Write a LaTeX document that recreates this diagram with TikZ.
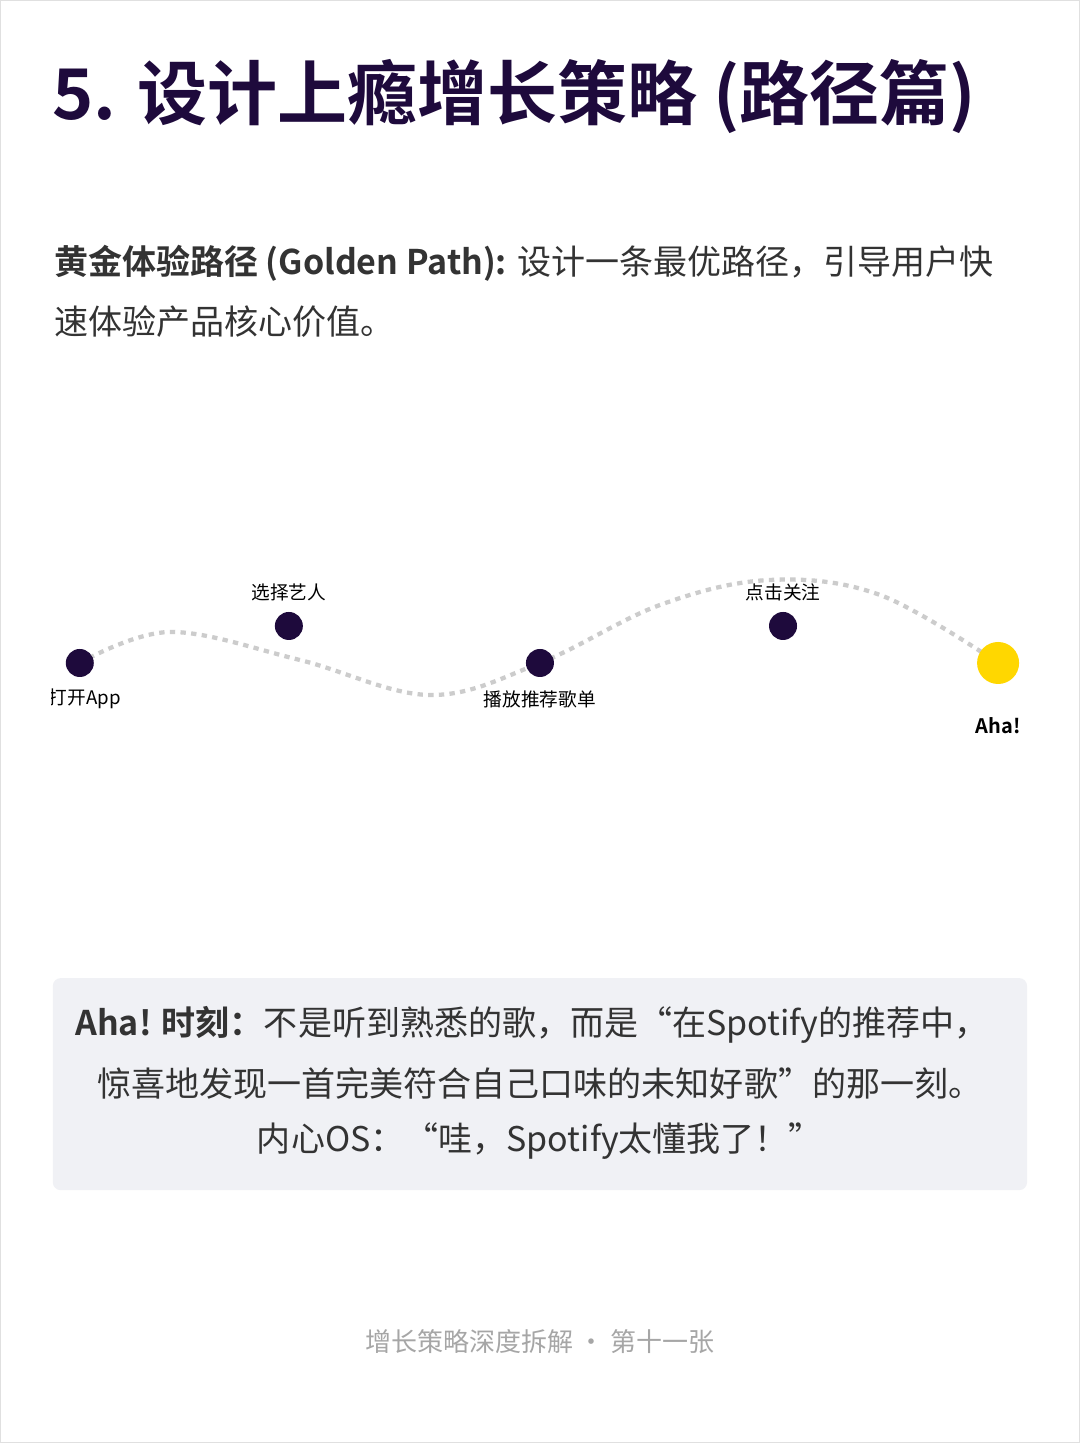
\documentclass[tikz,border=0pt]{standalone}
\usepackage{fontspec}
\setmainfont{Noto Sans CJK SC}
\newfontfamily\cjkb{Noto Sans CJK SC Bold}
\definecolor{ink}{HTML}{1E0A3C}
\definecolor{txt}{HTML}{333333}
\definecolor{gold}{HTML}{FFD700}
\definecolor{boxbg}{HTML}{F0F1F5}
\begin{document}
\begin{tikzpicture}[x=0.75pt,y=-0.75pt,
  dot/.style={circle,fill=ink,minimum size=28*0.75pt,inner sep=0},
  lbl/.style={font=\fontsize{14}{16}\selectfont,text=black,inner sep=0},
  body/.style={font=\fontsize{25.5}{30}\selectfont,text=txt,inner sep=0}]
\path[use as bounding box,fill=white,draw=black!12] (0.5,0.5) rectangle (1079.5,1442.5);
\node[anchor=west,inner sep=0,text=ink,font=\fontsize{52.5}{60}\cjkb] (title) at (52,97) {5. 设计上瘾增长策略 (路径篇)};
\node[anchor=west,body] (i1) at (54,263) {{\cjkb 黄金体验路径 (Golden Path):} 设计一条最优路径，引导用户快};
\node[anchor=west,body] (i2) at (54,322) {速体验产品核心价值。};
\draw[black!20,line width=3.2pt,dash pattern=on 4pt off 4pt]
  plot[smooth,tension=0.6] coordinates {(80,663) (170,632) (300,660) (430,695) (540,663) (660,605) (770,580) (880,595) (998,663)};
\node[dot] (a) at (80,663) {};
\node[dot] (b) at (289,626) {};
\node[dot] (c) at (540,663) {};
\node[dot] (d) at (783,626) {};
\node[circle,fill=gold,minimum size=42*0.75pt,inner sep=0] (e) at (998,663) {};
\begin{scope}
\clip (52,650) rectangle (200,720);
\node[lbl] (la) at (85,699) {打开App};
\end{scope}
\node[lbl] (lb) at (289,592) {选择艺人};
\node[lbl] (lc) at (540,699) {播放推荐歌单};
\node[lbl] (ld) at (783,592) {点击关注};
\node[lbl,font=\fontsize{15}{17}\cjkb] (le) at (998,726) {Aha!};
\fill[boxbg] (53,978) [rounded corners=6pt] rectangle (1027,1190);
\node[body] (t1) at (532,1025) {{\cjkb Aha! 时刻：}不是听到熟悉的歌，而是“在Spotify的推荐中，};
\node[body] (t2) at (540,1083) {惊喜地发现一首完美符合自己口味的未知好歌”的那一刻。};
\node[body] (t3) at (540,1141) {内心OS：“哇，Spotify太懂我了！”};
\node[font=\fontsize{19.5}{22}\selectfont,text=black!35,inner sep=0] (f) at (540,1341) {增长策略深度拆解 · 第十一张};
\end{tikzpicture}
\end{document}
